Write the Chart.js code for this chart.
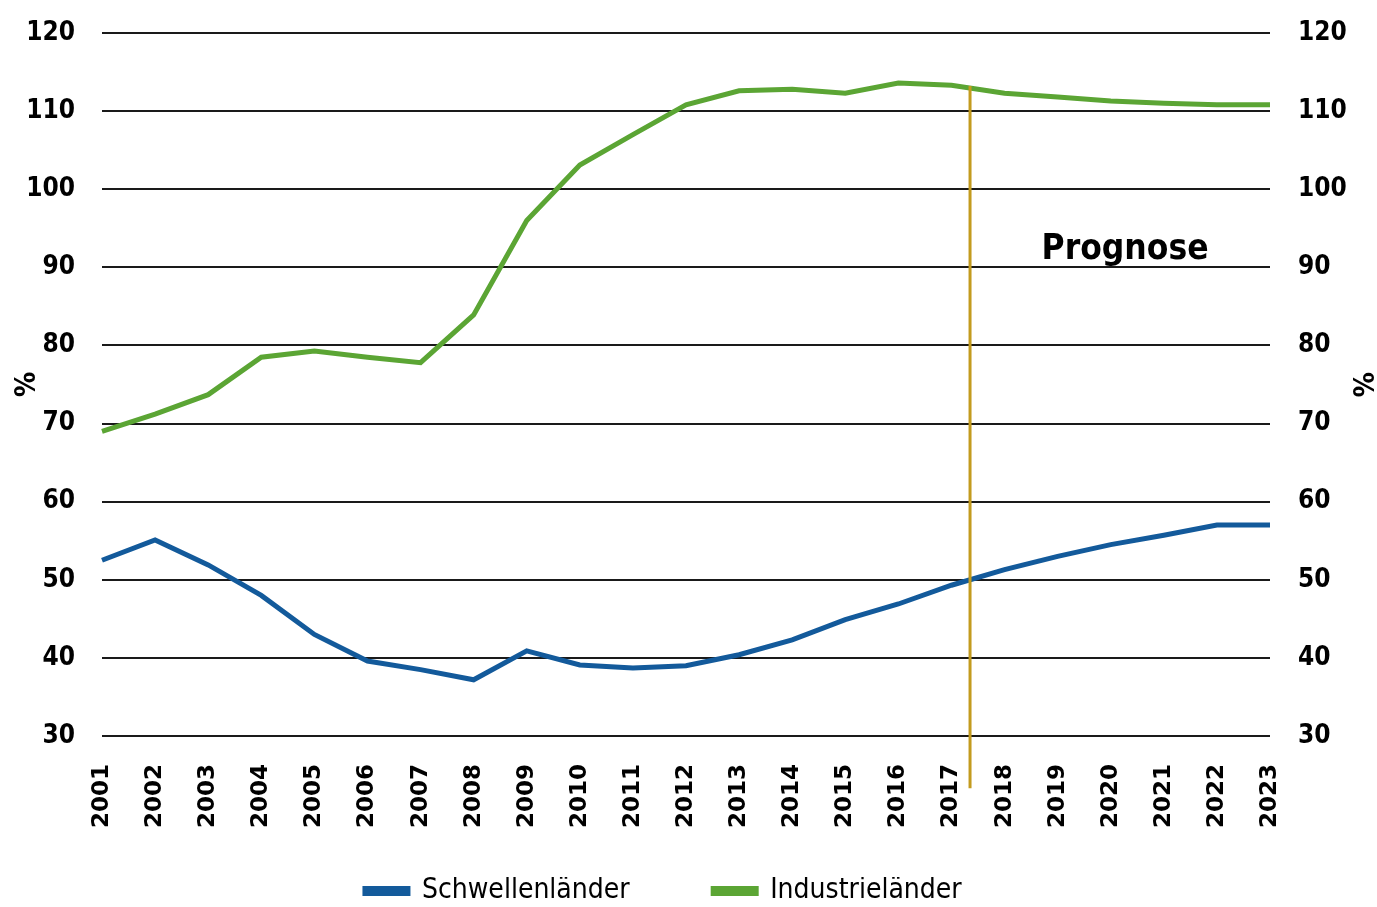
<!DOCTYPE html>
<html lang="de">
<head>
    <meta charset="UTF-8">
    <title>Schwellenländer / Industrieländer</title>
    <script src="https://cdn.jsdelivr.net/npm/chart.js"></script>
    <style>
        html, body { margin: 0; padding: 0; background: #fff; }
        #wrap { width: 1377px; height: 907px; }
    </style>
</head>
<body>
    <div id="wrap"><canvas id="chart"></canvas></div>
    <script>
        // Werte (in %)
        const years = ['2001', '2002', '2003', '2004', '2005', '2006', '2007', '2008', '2009', '2010', '2011', '2012',
                       '2013', '2014', '2015', '2016', '2017', '2018', '2019', '2020', '2021', '2022', '2023'];
        const schwellenlaender = [52.5, 55.1, 51.9, 48.0, 43.0, 39.6, 38.5, 37.2, 40.9, 39.1, 38.7, 39.0,
                                  40.4, 42.3, 44.9, 46.9, 49.3, 51.3, 53.0, 54.5, 55.7, 57.0, 57.0];
        const industrielaender = [69.0, 71.2, 73.7, 78.5, 79.3, 78.5, 77.8, 83.9, 96.0, 103.1, 107.0, 110.8,
                                  112.6, 112.8, 112.3, 113.6, 113.3, 112.3, 111.8, 111.3, 111.0, 110.8, 110.8];
        const yTicks = [30, 40, 50, 60, 70, 80, 90, 100, 110, 120];

        // Prognose-Markierung (Kategorie-Index, Werte auf der y-Achse)
        const forecastAt = 16.35;
        const forecastTop = 113.2;
        const forecastBottom = 23.3;
        const forecastLabel = 'Prognose';
        const forecastLabelAt = [19.27, 92.2];

        const narrow = "'Liberation Sans Narrow', 'Arial Narrow', 'DejaVu Sans Condensed', sans-serif";
        const blue = '#135a9b';
        const green = '#5ba534';
        const gold = '#c39b1e';

        const forecastPlugin = {
            id: 'forecast',
            afterDatasetsDraw(chart) {
                const ctx = chart.ctx;
                const x = chart.scales.x;
                const y = chart.scales.y;
                const px = x.getPixelForValue(forecastAt);
                ctx.save();
                ctx.strokeStyle = gold;
                ctx.lineWidth = 3;
                ctx.beginPath();
                ctx.moveTo(px, y.getPixelForValue(forecastTop));
                ctx.lineTo(px, y.getPixelForValue(forecastBottom));
                ctx.stroke();
                ctx.fillStyle = '#000';
                ctx.font = 'bold 35px ' + narrow;
                ctx.textAlign = 'center';
                ctx.textBaseline = 'middle';
                ctx.fillText(forecastLabel, x.getPixelForValue(forecastLabelAt[0]), y.getPixelForValue(forecastLabelAt[1]));
                ctx.restore();
            }
        };

        const yTickOpts = {
            font: { family: narrow, size: 26, weight: 'bold' },
            color: '#000',
            autoSkip: false
        };

        // Abstand zwischen den Legendeneinträgen wie im Original
        const legendGap = ['\u2003\u2003\u2003 ', '\u2003\u2003'];

        function fixWidth(w) {
            return function (scale) {
                scale.width = w;
                scale.paddingTop = 0;
                scale.paddingBottom = 0;
            };
        }

        new Chart(document.getElementById('chart'), {
            type: 'line',
            data: {
                labels: years,
                datasets: [
                    {
                        label: 'Schwellenländer',
                        data: schwellenlaender,
                        borderColor: blue,
                        backgroundColor: blue,
                        borderWidth: 5,
                        pointRadius: 0,
                        tension: 0,
                        yAxisID: 'y'
                    },
                    {
                        label: 'Industrieländer',
                        data: industrielaender,
                        borderColor: green,
                        backgroundColor: green,
                        borderWidth: 5,
                        pointRadius: 0,
                        tension: 0,
                        yAxisID: 'y'
                    }
                ]
            },
            options: {
                responsive: true,
                maintainAspectRatio: false,
                animation: false,
                layout: { padding: { top: 33, left: 0, right: 0, bottom: -8 } },
                plugins: {
                    tooltip: { enabled: false },
                    legend: {
                        position: 'bottom',
                        labels: {
                            boxWidth: 43,
                            boxHeight: 5,
                            padding: 0,
                            color: '#000',
                            font: { family: narrow, size: 28 },
                            generateLabels(chart) {
                                const items = Chart.defaults.plugins.legend.labels.generateLabels(chart);
                                items.forEach((it, i) => { it.text = it.text + legendGap[i]; });
                                return items;
                            }
                        }
                    }
                },
                scales: {
                    x: {
                        offset: false,
                        grid: { display: false, drawTicks: false },
                        border: { display: false },
                        ticks: {
                            minRotation: 90,
                            maxRotation: 90,
                            autoSkip: false,
                            padding: 28,
                            color: '#000',
                            font: { family: "'DejaVu Sans', sans-serif", size: 23, weight: 'bold' }
                        },
                        afterFit(scale) { scale.height = 141; }
                    },
                    y: {
                        position: 'left',
                        min: 30,
                        max: 120,
                        afterBuildTicks(scale) { scale.ticks = yTicks.map(v => ({ value: v })); },
                        grid: { color: '#1a1a1a', lineWidth: 2, drawTicks: false },
                        border: { display: false },
                        ticks: Object.assign({ padding: 27 }, yTickOpts),
                        title: { display: true, text: '%', color: '#000', padding: { top: 11, bottom: 0 },
                                 font: { family: narrow, size: 28, weight: 'bold' } },
                        afterFit: fixWidth(102)
                    },
                    y2: {
                        position: 'right',
                        min: 30,
                        max: 120,
                        afterBuildTicks(scale) { scale.ticks = yTicks.map(v => ({ value: v })); },
                        grid: { display: false, drawTicks: false },
                        border: { display: false },
                        ticks: Object.assign({ padding: 28 }, yTickOpts),
                        title: { display: true, text: '%', color: '#000', padding: 0,
                                 font: { family: narrow, size: 28, weight: 'bold' } },
                        afterFit: fixWidth(107)
                    }
                }
            },
            plugins: [forecastPlugin]
        });
    </script>
</body>
</html>
